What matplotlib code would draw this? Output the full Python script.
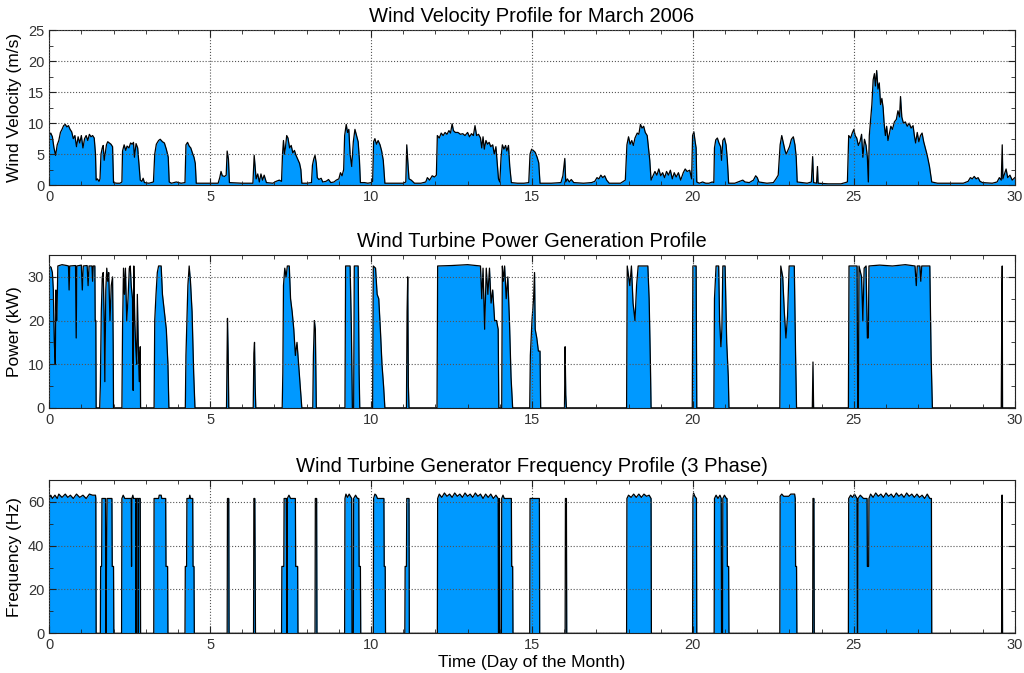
import matplotlib
matplotlib.use("Agg")
import matplotlib.pyplot as plt
from matplotlib.ticker import MultipleLocator

# wind speed (day, m/s)
wind_pts = [
    (0.00, 8.0), (0.05, 8.4), (0.10, 7.8), (0.15, 6.0), (0.20, 4.8), (0.25, 6.5), (0.30, 7.2), (0.35, 8.5),
    (0.40, 9.0), (0.45, 9.6), (0.50, 9.8), (0.55, 9.4), (0.60, 9.6), (0.65, 9.0), (0.70, 8.6), (0.75, 7.5),
    (0.80, 8.0), (0.85, 6.2), (0.90, 7.8), (0.95, 6.8), (1.00, 8.0), (1.05, 6.0), (1.10, 7.5), (1.15, 8.0),
    (1.20, 7.2), (1.25, 8.2), (1.30, 7.8), (1.35, 8.0), (1.40, 7.6), (1.44, 5.0), (1.46, 0.8), (1.50, 1.0),
    (1.55, 0.6), (1.58, 1.0), (1.61, 5.0), (1.65, 6.0), (1.68, 6.4), (1.71, 4.0), (1.74, 5.0), (1.78, 6.5),
    (1.82, 7.0), (1.87, 6.8), (1.92, 6.6), (1.97, 6.2), (2.00, 0.4), (2.10, 0.3), (2.20, 0.3), (2.26, 0.5),
    (2.28, 5.5), (2.33, 6.5), (2.38, 5.6), (2.42, 6.3), (2.48, 6.0), (2.53, 6.8), (2.58, 6.6), (2.62, 6.9),
    (2.65, 4.5), (2.70, 6.7), (2.75, 6.0), (2.79, 3.5), (2.83, 0.8), (2.88, 0.6), (2.92, 1.1), (2.96, 0.4),
    (3.10, 0.3), (3.24, 0.5), (3.28, 5.0), (3.33, 6.6), (3.40, 7.2), (3.45, 7.4), (3.52, 7.0), (3.58, 6.8),
    (3.64, 5.8), (3.70, 4.5), (3.73, 0.5), (3.80, 0.3), (3.95, 0.5), (4.10, 0.3), (4.22, 0.4), (4.25, 6.5),
    (4.30, 6.9), (4.35, 6.3), (4.40, 6.0), (4.45, 5.2), (4.50, 4.5), (4.54, 3.5), (4.57, 0.3), (5.00, 0.3),
    (5.25, 0.3), (5.30, 1.2), (5.34, 2.2), (5.38, 1.5), (5.45, 1.4), (5.50, 1.6), (5.53, 5.5), (5.57, 4.2),
    (5.60, 0.4), (6.00, 0.3), (6.33, 0.3), (6.37, 4.8), (6.40, 3.0), (6.43, 1.0), (6.48, 1.8), (6.53, 0.5),
    (6.58, 1.8), (6.63, 0.8), (6.68, 1.6), (6.75, 0.4), (6.95, 0.3), (7.05, 0.6), (7.15, 0.8), (7.22, 0.6),
    (7.25, 5.0), (7.28, 7.2), (7.31, 5.0), (7.34, 6.0), (7.38, 8.0), (7.42, 7.6), (7.47, 6.0), (7.52, 6.4),
    (7.57, 5.2), (7.62, 5.6), (7.67, 4.8), (7.72, 4.2), (7.78, 3.5), (7.82, 2.5), (7.85, 0.3), (8.00, 0.3),
    (8.15, 0.4), (8.18, 3.2), (8.22, 4.2), (8.26, 4.8), (8.30, 3.5), (8.33, 1.2), (8.38, 0.9), (8.45, 1.1),
    (8.50, 0.5), (8.60, 0.6), (8.68, 0.9), (8.75, 0.4), (8.85, 0.5), (8.92, 0.8), (9.00, 1.0), (9.05, 2.0),
    (9.10, 1.5), (9.15, 2.5), (9.18, 8.0), (9.23, 9.8), (9.27, 8.5), (9.31, 9.0), (9.35, 5.0), (9.40, 3.0),
    (9.45, 7.0), (9.50, 9.0), (9.55, 8.0), (9.60, 7.0), (9.64, 4.0), (9.67, 0.4), (9.80, 0.4), (9.90, 0.3),
    (10.00, 0.4), (10.05, 0.6), (10.08, 7.0), (10.12, 7.5), (10.17, 6.6), (10.22, 7.2), (10.28, 6.5),
    (10.33, 5.5), (10.38, 4.0), (10.43, 0.3), (10.70, 0.3), (11.00, 0.3), (11.08, 0.5), (11.11, 6.5),
    (11.14, 4.0), (11.18, 1.0), (11.25, 0.8), (11.35, 0.3), (11.55, 0.3), (11.70, 0.5), (11.75, 1.2),
    (11.82, 0.8), (11.90, 1.5), (11.97, 1.3), (12.03, 1.6), (12.06, 8.0), (12.12, 7.6), (12.18, 8.4),
    (12.24, 8.0), (12.30, 8.5), (12.36, 8.2), (12.42, 8.8), (12.47, 8.4), (12.52, 9.9), (12.56, 8.8),
    (12.62, 8.5), (12.70, 8.5), (12.78, 8.2), (12.85, 8.3), (12.92, 8.0), (13.00, 8.5), (13.06, 7.8),
    (13.12, 8.3), (13.18, 8.0), (13.23, 9.6), (13.28, 8.0), (13.34, 8.2), (13.40, 7.6), (13.44, 6.0),
    (13.48, 7.8), (13.52, 5.8), (13.57, 7.2), (13.62, 6.6), (13.67, 6.9), (13.72, 6.2), (13.78, 6.5),
    (13.83, 5.0), (13.88, 6.2), (13.93, 3.0), (13.96, 1.0), (14.00, 0.5), (14.04, 4.5), (14.08, 6.5),
    (14.13, 5.8), (14.18, 6.4), (14.22, 5.5), (14.27, 6.4), (14.31, 3.0), (14.36, 0.4), (14.55, 0.3),
    (14.75, 0.3), (14.90, 0.4), (14.94, 5.0), (14.99, 5.8), (15.04, 5.6), (15.10, 5.3), (15.16, 4.5),
    (15.21, 3.6), (15.25, 0.3), (15.60, 0.3), (15.90, 0.4), (15.96, 1.5), (16.02, 4.3), (16.05, 0.5),
    (16.10, 1.0), (16.16, 0.5), (16.22, 0.9), (16.30, 0.4), (16.60, 0.3), (16.85, 0.4), (16.95, 0.6),
    (17.02, 1.2), (17.08, 1.0), (17.14, 1.6), (17.20, 1.2), (17.26, 1.5), (17.32, 0.8), (17.40, 0.3),
    (17.75, 0.3), (17.90, 0.8), (17.95, 6.5), (18.00, 7.8), (18.05, 6.6), (18.10, 7.2), (18.15, 6.4),
    (18.20, 7.6), (18.27, 8.4), (18.32, 8.2), (18.37, 9.8), (18.42, 9.2), (18.47, 9.5), (18.52, 8.5),
    (18.58, 8.0), (18.62, 6.0), (18.66, 4.0), (18.70, 0.8), (18.76, 1.5), (18.82, 2.2), (18.88, 1.6),
    (18.94, 2.6), (19.00, 1.5), (19.06, 2.0), (19.12, 1.2), (19.18, 2.2), (19.24, 1.6), (19.30, 2.4),
    (19.36, 1.0), (19.42, 2.0), (19.48, 1.3), (19.55, 2.0), (19.62, 0.8), (19.70, 2.0), (19.76, 2.6),
    (19.82, 2.2), (19.90, 2.4), (19.96, 1.0), (19.99, 8.0), (20.03, 8.6), (20.07, 7.0), (20.10, 6.0),
    (20.12, 0.5), (20.20, 0.3), (20.30, 0.5), (20.40, 0.3), (20.50, 0.3), (20.60, 0.5), (20.65, 0.4),
    (20.67, 6.0), (20.71, 7.3), (20.76, 7.6), (20.81, 6.8), (20.86, 6.2), (20.89, 4.0), (20.93, 7.2),
    (20.98, 7.6), (21.03, 6.5), (21.07, 4.0), (21.11, 0.3), (21.30, 0.3), (21.45, 0.6), (21.55, 0.8),
    (21.62, 0.5), (21.75, 0.4), (21.88, 0.8), (21.95, 1.5), (22.00, 1.2), (22.05, 0.5), (22.30, 0.3),
    (22.50, 0.4), (22.58, 1.0), (22.65, 1.6), (22.71, 6.5), (22.76, 8.0), (22.81, 6.8), (22.86, 5.6),
    (22.90, 5.0), (22.95, 5.6), (23.00, 6.2), (23.06, 7.4), (23.12, 7.8), (23.17, 6.5), (23.21, 4.5),
    (23.24, 0.5), (23.40, 0.4), (23.55, 0.3), (23.68, 0.5), (23.72, 4.6), (23.75, 0.4), (23.84, 0.3),
    (23.87, 3.0), (23.89, 0.3), (24.20, 0.2), (24.60, 0.2), (24.80, 0.5), (24.84, 8.0), (24.90, 7.6),
    (24.95, 8.4), (25.00, 9.0), (25.04, 8.0), (25.09, 7.6), (25.14, 6.4), (25.19, 7.0), (25.24, 8.2),
    (25.28, 4.5), (25.33, 7.4), (25.38, 6.4), (25.42, 4.5), (25.45, 0.5), (25.48, 8.0), (25.52, 10.5),
    (25.56, 13.0), (25.60, 17.0), (25.64, 18.0), (25.67, 16.0), (25.71, 18.5), (25.75, 15.5), (25.79, 16.5),
    (25.83, 13.0), (25.87, 14.0), (25.91, 12.5), (25.94, 10.0), (25.98, 8.0), (26.02, 9.5), (26.06, 7.2),
    (26.10, 8.2), (26.15, 9.5), (26.20, 9.0), (26.26, 10.2), (26.32, 10.6), (26.37, 12.0), (26.42, 11.0),
    (26.45, 14.3), (26.49, 11.0), (26.54, 10.0), (26.60, 10.2), (26.66, 9.5), (26.72, 10.0), (26.78, 9.2),
    (26.84, 9.6), (26.88, 8.0), (26.92, 6.8), (26.97, 8.5), (27.02, 7.0), (27.07, 8.0), (27.12, 8.4),
    (27.17, 7.0), (27.22, 6.0), (27.28, 4.8), (27.35, 3.0), (27.42, 0.5), (27.60, 0.3), (28.00, 0.3),
    (28.40, 0.3), (28.55, 0.6), (28.62, 1.2), (28.68, 1.0), (28.74, 1.4), (28.80, 1.0), (28.86, 1.2),
    (28.92, 0.6), (29.00, 0.4), (29.30, 0.3), (29.45, 0.5), (29.52, 1.2), (29.58, 0.8), (29.61, 6.5),
    (29.63, 1.0), (29.68, 1.8), (29.73, 2.6), (29.78, 1.2), (29.85, 1.6), (29.92, 0.8), (30.00, 1.2),
]

# turbine power (day, kW)
power_pts = [
    (0.00, 32.5), (0.06, 32.2), (0.10, 31.0), (0.13, 27.0), (0.16, 15.0), (0.19, 10.0), (0.21, 27.0),
    (0.24, 20.0), (0.27, 32.5), (0.40, 32.8), (0.55, 32.6), (0.60, 32.5), (0.62, 27.0), (0.64, 32.5),
    (0.82, 32.6), (0.84, 16.0), (0.86, 32.5), (1.00, 32.7), (1.03, 27.0), (1.06, 32.5), (1.18, 32.6),
    (1.21, 28.0), (1.24, 32.5), (1.33, 32.5), (1.35, 29.0), (1.37, 32.5), (1.42, 32.5), (1.43, 20.0),
    (1.45, 20.0), (1.46, 0.0), (1.57, 0.0), (1.59, 5.0), (1.62, 22.0), (1.65, 30.0), (1.68, 31.0),
    (1.71, 20.0), (1.73, 6.0), (1.76, 27.0), (1.79, 32.0), (1.82, 29.0), (1.85, 31.0), (1.89, 20.0),
    (1.93, 28.0), (1.97, 30.0), (1.99, 14.0), (2.00, 0.0), (2.26, 0.0), (2.28, 18.0), (2.31, 32.0),
    (2.34, 26.0), (2.37, 32.0), (2.41, 20.0), (2.45, 25.0), (2.49, 32.0), (2.52, 32.5), (2.55, 28.0),
    (2.59, 25.0), (2.61, 4.0), (2.63, 32.5), (2.66, 20.0), (2.69, 14.0), (2.72, 10.0), (2.74, 26.0),
    (2.77, 14.0), (2.80, 6.0), (2.83, 14.0), (2.84, 0.0), (3.26, 0.0), (3.28, 20.0), (3.32, 26.0),
    (3.36, 31.0), (3.40, 32.5), (3.48, 32.5), (3.52, 26.0), (3.58, 22.0), (3.64, 18.0), (3.69, 10.0),
    (3.72, 0.0), (4.23, 0.0), (4.25, 12.0), (4.28, 20.0), (4.31, 28.0), (4.35, 32.5), (4.39, 29.0),
    (4.44, 22.0), (4.49, 8.0), (4.53, 0.0), (5.51, 0.0), (5.53, 13.0), (5.54, 20.5), (5.56, 13.0),
    (5.58, 0.0), (6.34, 0.0), (6.36, 12.5), (6.38, 15.0), (6.40, 5.0), (6.42, 0.0), (7.24, 0.0),
    (7.26, 8.0), (7.28, 28.0), (7.32, 32.0), (7.36, 30.0), (7.40, 32.5), (7.46, 32.5), (7.50, 25.0),
    (7.55, 22.0), (7.60, 18.0), (7.65, 12.0), (7.70, 15.0), (7.75, 10.0), (7.80, 5.0), (7.85, 0.0),
    (8.19, 0.0), (8.21, 12.0), (8.24, 20.0), (8.27, 18.0), (8.30, 0.0), (9.19, 0.0), (9.21, 32.5),
    (9.35, 32.5), (9.39, 18.0), (9.42, 0.0), (9.46, 0.0), (9.48, 32.5), (9.60, 32.5), (9.63, 8.0),
    (9.65, 0.0), (10.05, 0.0), (10.07, 32.5), (10.14, 32.0), (10.19, 26.0), (10.24, 25.0), (10.29, 18.0),
    (10.34, 10.0), (10.39, 5.0), (10.43, 0.0), (11.10, 0.0), (11.12, 22.0), (11.14, 30.0), (11.16, 5.0),
    (11.18, 0.0), (12.05, 0.0), (12.07, 32.5), (12.50, 32.6), (13.00, 32.8), (13.40, 32.5), (13.44, 25.0),
    (13.48, 32.0), (13.53, 18.0), (13.58, 32.0), (13.63, 26.0), (13.68, 32.0), (13.73, 24.0), (13.78, 27.0),
    (13.84, 20.0), (13.90, 20.0), (13.95, 18.0), (13.97, 0.0), (14.06, 0.0), (14.08, 32.5), (14.11, 29.0),
    (14.15, 32.5), (14.20, 25.0), (14.25, 30.0), (14.30, 20.0), (14.35, 7.0), (14.40, 0.0), (14.93, 0.0),
    (14.95, 12.0), (15.00, 20.0), (15.05, 25.0), (15.08, 31.0), (15.10, 18.0), (15.15, 16.0), (15.20, 13.0),
    (15.25, 13.0), (15.27, 0.0), (16.01, 0.0), (16.03, 14.0), (16.05, 3.0), (16.07, 0.0), (17.94, 0.0),
    (17.96, 32.5), (18.04, 28.0), (18.09, 32.5), (18.14, 24.0), (18.20, 20.0), (18.25, 28.0), (18.30, 32.5),
    (18.60, 32.5), (18.64, 25.0), (18.68, 10.0), (18.70, 0.0), (19.98, 0.0), (20.00, 32.5), (20.10, 32.5),
    (20.12, 0.0), (20.65, 0.0), (20.67, 25.0), (20.72, 32.5), (20.80, 32.5), (20.83, 20.0), (20.87, 14.0),
    (20.90, 18.0), (20.93, 32.5), (21.00, 32.5), (21.05, 15.0), (21.10, 7.0), (21.12, 0.0), (22.70, 0.0),
    (22.73, 32.5), (22.79, 30.0), (22.84, 22.0), (22.89, 16.0), (22.94, 21.0), (22.99, 32.5), (23.15, 32.5),
    (23.19, 12.0), (23.22, 0.0), (23.71, 0.0), (23.73, 10.5), (23.75, 0.0), (24.83, 0.0), (24.85, 32.5),
    (25.10, 32.5), (25.12, 0.0), (25.14, 0.0), (25.16, 32.5), (25.24, 30.0), (25.28, 20.0), (25.32, 32.0),
    (25.38, 32.5), (25.42, 16.0), (25.45, 16.0), (25.47, 32.5), (25.80, 32.7), (26.20, 32.5), (26.60, 32.8),
    (26.90, 32.5), (26.94, 28.0), (26.97, 32.5), (27.05, 32.5), (27.08, 29.0), (27.11, 32.5), (27.36, 32.5),
    (27.40, 12.0), (27.44, 0.0), (29.58, 0.0), (29.60, 27.0), (29.61, 32.5), (29.62, 0.0), (30.00, 0.0),
]

# generator frequency (day, Hz)
freq_pts = [
    (0.00, 61.5), (0.05, 63.0), (0.10, 61.5), (0.18, 63.0), (0.25, 61.5), (0.30, 63.5), (0.40, 62.0),
    (0.50, 63.5), (0.58, 62.0), (0.66, 63.0), (0.75, 61.5), (0.85, 63.5), (0.95, 62.0), (1.05, 63.0),
    (1.15, 61.5), (1.25, 63.5), (1.35, 63.0), (1.44, 63.0), (1.45, 61.5), (1.46, 0.0), (1.59, 0.0),
    (1.60, 30.5), (1.63, 30.5), (1.64, 61.5), (1.75, 61.5), (1.76, 0.0), (1.77, 0.0), (1.78, 30.5),
    (1.80, 61.5), (1.95, 61.5), (1.96, 30.5), (2.00, 30.5), (2.01, 0.0), (2.25, 0.0), (2.26, 61.5),
    (2.30, 63.0), (2.35, 61.5), (2.55, 61.5), (2.56, 30.5), (2.57, 61.5), (2.60, 63.0), (2.62, 61.5),
    (2.69, 61.5), (2.70, 0.0), (2.71, 61.5), (2.76, 61.5), (2.77, 0.0), (2.78, 61.5), (2.83, 61.5),
    (2.84, 0.0), (3.25, 0.0), (3.26, 61.5), (3.40, 61.5), (3.42, 63.0), (3.48, 63.0), (3.50, 61.5),
    (3.62, 61.5), (3.63, 30.5), (3.68, 30.5), (3.69, 0.0), (4.22, 0.0), (4.23, 30.5), (4.27, 30.5),
    (4.28, 61.5), (4.35, 61.5), (4.37, 63.0), (4.39, 61.5), (4.46, 61.5), (4.47, 30.5), (4.50, 30.5),
    (4.51, 0.0), (5.53, 0.0), (5.54, 61.5), (5.58, 61.5), (5.59, 0.0), (6.35, 0.0), (6.36, 61.5),
    (6.39, 61.5), (6.40, 30.5), (6.41, 0.0), (7.22, 0.0), (7.23, 30.5), (7.29, 30.5), (7.30, 61.5),
    (7.37, 61.5), (7.39, 0.0), (7.40, 61.5), (7.45, 63.0), (7.50, 61.5), (7.65, 61.5), (7.66, 30.5),
    (7.72, 30.5), (7.73, 0.0), (8.26, 0.0), (8.27, 61.5), (8.31, 61.5), (8.32, 0.0), (9.18, 0.0),
    (9.19, 61.5), (9.22, 63.5), (9.27, 62.0), (9.32, 63.5), (9.40, 61.5), (9.41, 0.0), (9.45, 0.0),
    (9.46, 61.5), (9.52, 63.0), (9.58, 61.5), (9.62, 61.5), (9.63, 30.5), (9.67, 30.5), (9.68, 0.0),
    (10.07, 0.0), (10.08, 61.5), (10.12, 63.5), (10.16, 63.0), (10.20, 61.5), (10.40, 61.5), (10.41, 30.5),
    (10.44, 30.5), (10.45, 0.0), (11.05, 0.0), (11.06, 30.5), (11.10, 30.5), (11.11, 61.5), (11.18, 61.5),
    (11.19, 0.0), (12.06, 0.0), (12.07, 61.5), (12.12, 63.5), (12.20, 62.0), (12.28, 64.0), (12.36, 62.5),
    (12.44, 63.5), (12.52, 62.0), (12.60, 64.0), (12.68, 62.5), (12.76, 63.5), (12.84, 62.0), (12.92, 64.0),
    (13.00, 62.5), (13.08, 63.5), (13.16, 62.0), (13.24, 64.0), (13.32, 62.5), (13.40, 63.5), (13.48, 61.5),
    (13.56, 63.5), (13.64, 62.0), (13.72, 63.5), (13.80, 61.5), (13.88, 63.0), (13.95, 61.5), (13.96, 0.0),
    (13.98, 0.0), (13.99, 61.5), (14.00, 0.0), (14.05, 0.0), (14.06, 61.5), (14.10, 63.0), (14.14, 61.5),
    (14.36, 61.5), (14.37, 30.5), (14.40, 30.5), (14.41, 0.0), (14.93, 0.0), (14.94, 61.5), (15.23, 61.5),
    (15.24, 0.0), (16.03, 0.0), (16.04, 61.5), (16.07, 61.5), (16.08, 0.0), (17.94, 0.0), (17.95, 61.5),
    (18.00, 63.0), (18.08, 62.0), (18.16, 63.5), (18.24, 62.0), (18.32, 63.5), (18.40, 62.0), (18.48, 63.5),
    (18.56, 62.5), (18.64, 63.0), (18.70, 61.5), (18.71, 0.0), (19.99, 0.0), (20.00, 61.5), (20.02, 64.0),
    (20.06, 62.5), (20.11, 61.5), (20.12, 0.0), (20.66, 0.0), (20.67, 61.5), (20.72, 63.0), (20.78, 61.5),
    (20.84, 63.0), (20.88, 61.5), (20.89, 0.0), (20.92, 0.0), (20.93, 61.5), (20.98, 63.0), (21.04, 61.5),
    (21.06, 61.5), (21.07, 30.5), (21.11, 30.5), (21.12, 0.0), (22.70, 0.0), (22.71, 62.5), (22.76, 63.5),
    (22.82, 62.5), (22.98, 62.5), (23.04, 63.5), (23.16, 63.5), (23.18, 61.5), (23.19, 30.5), (23.22, 30.5),
    (23.23, 0.0), (23.72, 0.0), (23.73, 61.5), (23.76, 61.5), (23.77, 0.0), (24.83, 0.0), (24.84, 61.5),
    (24.90, 63.0), (24.96, 62.0), (25.02, 63.5), (25.10, 61.5), (25.11, 0.0), (25.12, 0.0), (25.13, 61.5),
    (25.20, 63.0), (25.30, 61.5), (25.41, 61.5), (25.42, 30.5), (25.46, 30.5), (25.47, 61.5), (25.52, 63.5),
    (25.60, 62.0), (25.68, 64.0), (25.76, 62.5), (25.84, 63.5), (25.92, 62.0), (26.00, 64.0), (26.08, 62.5),
    (26.16, 63.5), (26.24, 62.0), (26.32, 64.0), (26.40, 62.5), (26.48, 63.5), (26.56, 62.0), (26.64, 64.0),
    (26.72, 62.5), (26.80, 63.5), (26.88, 62.0), (26.96, 63.5), (27.04, 62.0), (27.12, 63.0), (27.20, 61.5),
    (27.28, 63.5), (27.36, 61.5), (27.41, 61.5), (27.42, 0.0), (29.59, 0.0), (29.60, 63.0), (29.61, 63.0),
    (29.62, 0.0), (30.00, 0.0),
]

titles = ["Wind Velocity Profile for March 2006",
          "Wind Turbine Power Generation Profile",
          "Wind Turbine Generator Frequency Profile (3 Phase)"]
ylabels = ["Wind Velocity (m/s)", "Power (kW)", "Frequency (Hz)"]
ylims = [25, 35, 70]
ymajor = [5, 10, 20]
yminor = [2.5, 5, 10]

plt.rcParams["font.family"] = ["Liberation Sans", "DejaVu Sans"]
fill_col = "#0099ff"

fig = plt.figure(figsize=(10.24, 6.73), dpi=100)
boxes = [(0.048, 0.725, 0.943, 0.230),
         (0.048, 0.394, 0.943, 0.227),
         (0.048, 0.059, 0.943, 0.228)]

for i, pts in enumerate([wind_pts, power_pts, freq_pts]):
    ax = fig.add_axes(boxes[i])
    x = [p[0] for p in pts]
    y = [p[1] for p in pts]
    ax.fill_between(x, y, 0, color=fill_col, linewidth=0)
    ax.plot(x, y, color="black", linewidth=0.9)
    ax.set_xlim(0, 30)
    ax.set_ylim(0, ylims[i])
    ax.xaxis.set_major_locator(MultipleLocator(5))
    ax.xaxis.set_minor_locator(MultipleLocator(1))
    ax.yaxis.set_major_locator(MultipleLocator(ymajor[i]))
    ax.yaxis.set_minor_locator(MultipleLocator(yminor[i]))
    ax.tick_params(which="both", direction="in", top=True, right=True,
                   labelsize=10.5, labelcolor="#333333", color="#222222")
    ax.tick_params(which="major", length=5)
    ax.tick_params(which="minor", length=3)
    ax.grid(True, which="major", linestyle=":", color="#555555", linewidth=0.8)
    ax.set_axisbelow(False)
    for s in ax.spines.values():
        s.set_color("#222222")
    ax.set_title(titles[i], fontsize=14.5, pad=6)
    ax.set_ylabel(ylabels[i], fontsize=12.5, labelpad=4)
    if i == 2:
        ax.set_xlabel("Time (Day of the Month)", fontsize=12.5, labelpad=2)

fig.savefig("out.png", dpi=100)
